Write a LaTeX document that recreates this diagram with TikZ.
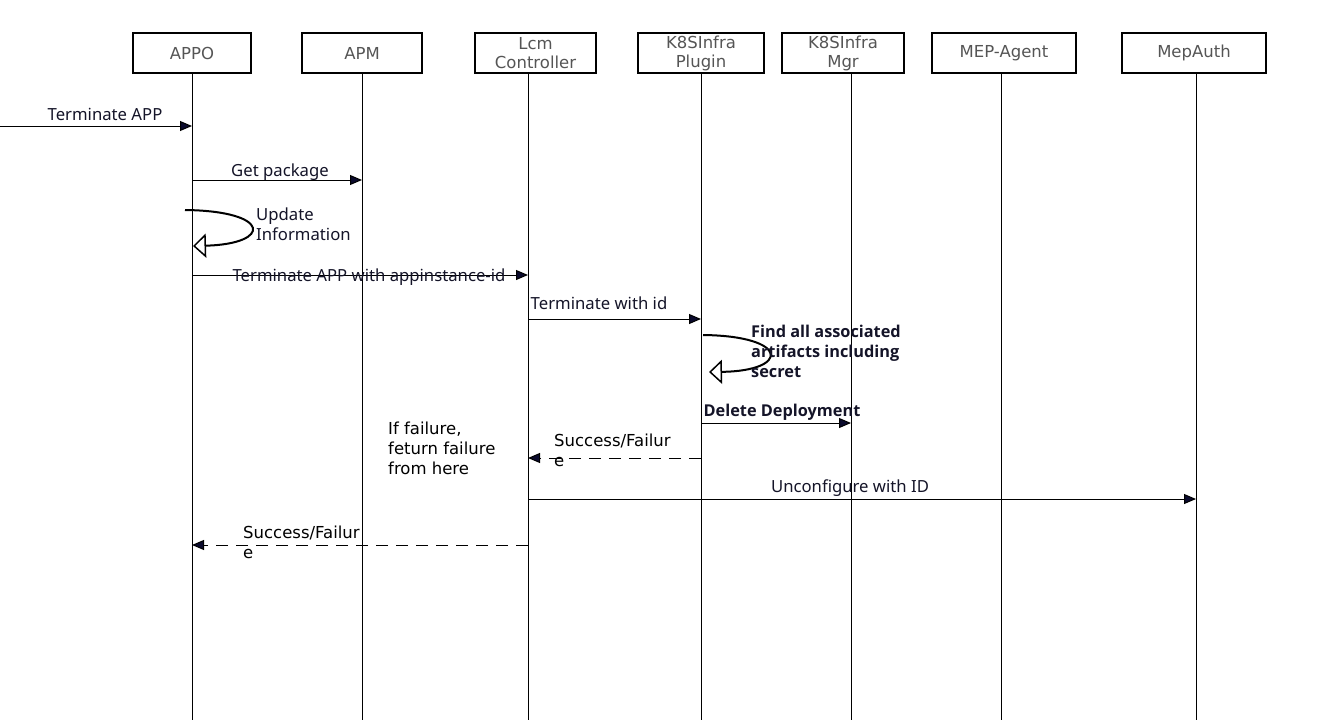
\documentclass[tikz,border=0pt]{standalone}
\usepackage{fontspec}
\setmainfont{Noto Sans}
\newfontfamily\dejavu{DejaVu Sans}
\newfontfamily\heavy{Open Sans}[BoldFont={* Bold}]
\usetikzlibrary{arrows.meta,positioning}

\definecolor{headgrey}{RGB}{85,85,85}
\definecolor{msgink}{RGB}{20,20,40}
\definecolor{tipink}{RGB}{10,10,45}

\tikzset{
  actor/.style={draw,line width=2pt,minimum height=40pt,align=center,text=headgrey,
    font=\dejavu\fontsize{16.5}{19}\selectfont,inner sep=1pt},
  lifeline/.style={line width=1pt,black},
  msg/.style={line width=1pt,-{Triangle[length=12pt,width=10pt,fill=tipink]}},
  reply/.style={msg,dash pattern=on 12pt off 8pt},
  selfmsg/.style={line width=2pt,-{Triangle[open,length=13pt,width=24pt,line width=1.5pt]}},
  lbl/.style={text=msgink,font=\fontsize{16.7}{20}\selectfont,inner sep=0pt},
  boldlbl/.style={lbl,font=\heavy\bfseries\fontsize{16.3}{20}\selectfont,align=left},
  plainlbl/.style={inner sep=0pt,font=\dejavu\fontsize{16.5}{20}\selectfont,align=left}
}

\begin{document}
\begin{tikzpicture}[x=1pt,y=-1pt]
\useasboundingbox (0,0) rectangle (1335,726);

% Participants
\node[actor,minimum width=118pt] (appo) at (192,53) {APPO};
\node[actor,minimum width=120pt] (apm) at (362,53) {APM};
\node[actor,minimum width=121pt] (lcm) at (535.5,53) {Lcm\\Controller};
\node[actor,minimum width=126pt] (plugin) at (701,53) {K8SInfra\\Plugin};
\node[actor,minimum width=122pt] (mgr) at (843,53) {K8SInfra\\Mgr};
\node[actor,minimum width=144pt] (agent) at (1004,53) {MEP-Agent};
\node[actor,minimum width=144pt] (auth) at (1194,53) {MepAuth};

% Lifelines
\coordinate (appo-x) at (192,720);
\coordinate (apm-x) at (362,720);
\coordinate (lcm-x) at (528,720);
\coordinate (plugin-x) at (701,720);
\coordinate (mgr-x) at (851,720);
\coordinate (agent-x) at (1001,720);
\coordinate (auth-x) at (1196,720);
\draw[lifeline] (appo-x |- appo.south) -- (appo-x);
\draw[lifeline] (apm-x |- apm.south) -- (apm-x);
\draw[lifeline] (lcm-x |- lcm.south) -- (lcm-x);
\draw[lifeline] (plugin-x |- plugin.south) -- (plugin-x);
\draw[lifeline] (mgr-x |- mgr.south) -- (mgr-x);
\draw[lifeline] (agent-x |- agent.south) -- (agent-x);
\draw[lifeline] (auth-x |- auth.south) -- (auth-x);

% Terminate request from outside
\coordinate (start) at (0,126);
\draw[msg] (start) -- (appo-x |- start);
\node[lbl] (t1) at (105,114) {Terminate APP};

% Get package
\coordinate (m2) at (0,180);
\draw[msg] (appo-x |- m2) -- (apm-x |- m2);
\node[lbl] (t2) at (280,172) {Get package};

% Update information (self call)
\coordinate (s1a) at (185,210);
\coordinate (s1b) at (193,246);
\draw[selfmsg] (s1a) .. controls (272,211) and (272,244) .. (s1b);
\node[lbl,align=left,anchor=north west] (t3) at (256,208) {Update\\Information};

% Terminate APP with appinstance-id
\coordinate (m4) at (0,275);
\draw[msg] (appo-x |- m4) -- (lcm-x |- m4);
\node[lbl] (t4) at (369,277) {Terminate APP with appinstance-id};

% Terminate with id
\coordinate (m5) at (0,319);
\draw[msg] (lcm-x |- m5) -- (plugin-x |- m5);
\node[lbl] (t5) at (599,303) {Terminate with id};

% Find artifacts (self call)
\coordinate (s2a) at (703,335);
\coordinate (s2b) at (709,372);
\draw[selfmsg] (s2a) .. controls (790,336) and (790,371) .. (s2b);
\node[boldlbl,anchor=north west] (t6) at (751,325) {Find all associated\\artifacts including\\secret};

% Delete Deployment
\coordinate (m7) at (0,423);
\draw[msg] (plugin-x |- m7) -- (mgr-x |- m7);
\node[boldlbl] (t7) at (782,412) {Delete Deployment};

% Reply to Lcm Controller
\coordinate (m8) at (0,458);
\draw[reply] (plugin-x |- m8) -- (lcm-x |- m8);
\node[plainlbl,anchor=north west] (t8) at (554,434) {Success/Failur\\e};

% Note
\node[plainlbl,anchor=north west] (note) at (388,422) {If failure,\\feturn failure\\from here};

% Unconfigure with ID
\coordinate (m9) at (0,499);
\draw[msg] (lcm-x |- m9) -- (auth-x |- m9);
\node[lbl] (t9) at (850,488) {Unconfigure with ID};

% Reply to APPO
\coordinate (m10) at (0,545);
\draw[reply] (lcm-x |- m10) -- (appo-x |- m10);
\node[plainlbl,anchor=north west] (t10) at (243,526) {Success/Failur\\e};
\end{tikzpicture}
\end{document}
